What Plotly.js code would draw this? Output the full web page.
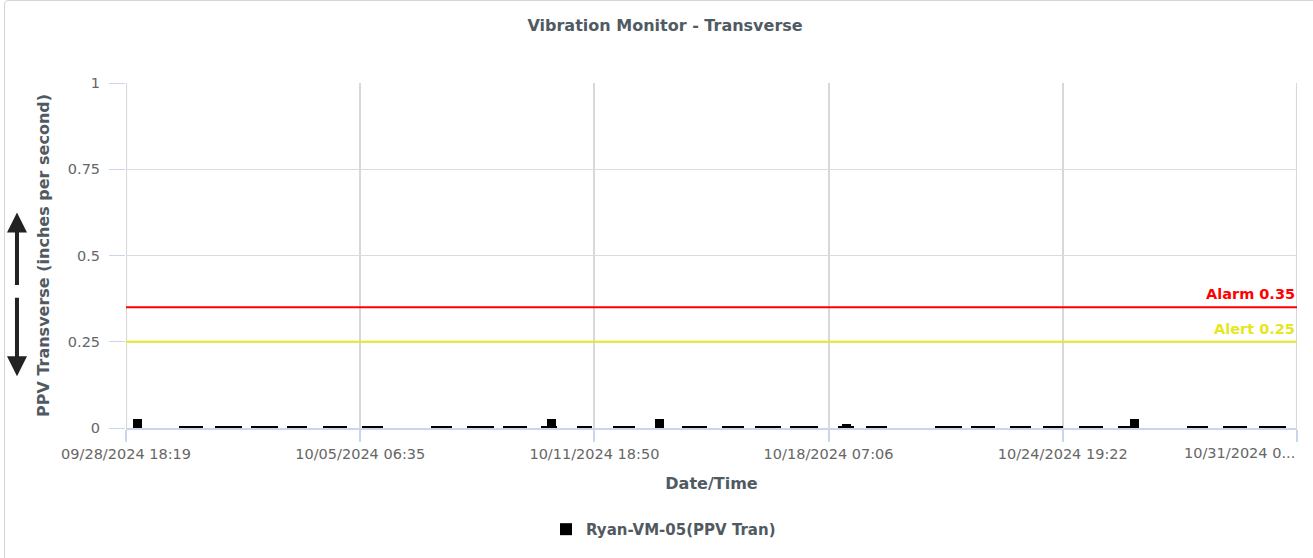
<!DOCTYPE html>
<html>
<head>
<meta charset="utf-8">
<script src="https://cdn.plot.ly/plotly-3.0.1.min.js"></script>
<style>
  html, body { margin: 0; padding: 0; background: #fff; }
  #frame {
    position: absolute; left: 4px; top: 0px;
    width: 1330px; height: 570px;
    border: 1px solid #d4d4d4; border-radius: 4px;
  }
  #chart { position: absolute; left: 0; top: 0; width: 1313px; height: 558px; }
</style>
</head>
<body>
<div id="frame"></div>
<div id="chart"></div>
<script>
/* ---------- readings: each bar spans a reading window ---------- */
const readingStart = [
  '2024-09-28 23:00', '2024-09-30 05:40', '2024-09-30 11:00', '2024-10-01 05:45',
  '2024-10-01 08:25', '2024-10-02 05:45', '2024-10-02 07:45', '2024-10-03 05:50',
  '2024-10-04 05:50', '2024-10-05 07:55', '2024-10-07 06:00', '2024-10-08 06:00',
  '2024-10-09 06:05', '2024-10-10 07:25', '2024-10-10 11:25', '2024-10-11 07:30',
  '2024-10-12 07:30', '2024-10-13 11:35', '2024-10-14 05:35', '2024-10-15 07:40',
  '2024-10-16 05:40', '2024-10-17 05:40', '2024-10-18 13:05', '2024-10-18 15:45',
  '2024-10-19 07:45', '2024-10-21 05:50', '2024-10-22 05:55', '2024-10-23 07:55',
  '2024-10-24 06:00', '2024-10-25 06:00', '2024-10-26 08:05', '2024-10-26 16:05',
  '2024-10-28 06:10', '2024-10-29 06:10', '2024-10-29 10:50', '2024-10-30 06:15'
];
const readingEnd = [
  '2024-09-29 05:00', '2024-09-30 21:45', '2024-09-30 16:20', '2024-10-01 23:45',
  '2024-10-01 13:45', '2024-10-02 23:50', '2024-10-02 13:50', '2024-10-03 19:10',
  '2024-10-04 21:55', '2024-10-05 21:55', '2024-10-07 20:00', '2024-10-09 00:00',
  '2024-10-09 22:05', '2024-10-10 18:05', '2024-10-10 17:30', '2024-10-11 17:30',
  '2024-10-12 22:10', '2024-10-13 17:35', '2024-10-14 21:40', '2024-10-15 22:20',
  '2024-10-16 23:40', '2024-10-17 23:45', '2024-10-18 23:45', '2024-10-18 21:45',
  '2024-10-19 21:50', '2024-10-21 23:55', '2024-10-22 21:55', '2024-10-23 22:00',
  '2024-10-24 19:20', '2024-10-25 22:00', '2024-10-26 22:05', '2024-10-26 22:05',
  '2024-10-28 20:10', '2024-10-29 22:10', '2024-10-29 16:50', '2024-10-31 00:15'
];
const ppvTran = [
  0.026, 0.003, 0.006, 0.003,
  0.006, 0.003, 0.006, 0.003,
  0.003, 0.003, 0.003, 0.003,
  0.003, 0.003, 0.026, 0.003,
  0.003, 0.026, 0.003, 0.003,
  0.003, 0.003, 0.003, 0.011,
  0.003, 0.003, 0.003, 0.003,
  0.003, 0.003, 0.003, 0.026,
  0.003, 0.003, 0.006, 0.003
];

/* ---------- thresholds ---------- */
const limitNames  = ['Alarm', 'Alert'];
const limitValues = [0.35, 0.25];
const limitColors = ['#ff0000', '#e6e620'];

/* ---------- axes ---------- */
const xRange    = ['2024-09-28 18:16', '2024-10-31 07:41'];
const xTickVals = ['2024-09-28 18:19', '2024-10-05 06:35', '2024-10-11 18:50',
                   '2024-10-18 07:06', '2024-10-24 19:22', '2024-10-31 07:38'];
const xTickText = ['09/28/2024 18:19', '10/05/2024 06:35', '10/11/2024 18:50',
                   '10/18/2024 07:06', '10/24/2024 19:22', '10/31/2024 0...'];
const yTickVals = [0, 0.25, 0.5, 0.75, 1];
const yTickText = ['0', '0.25', '0.5', '0.75', '1'];

(function () {
  'use strict';

  const FONT = 'DejaVu Sans, Verdana, sans-serif';
  const DARK = '#505a63';
  const GRID_X = '#d8d8d8';

  const toMs = s => new Date(s.replace(' ', 'T')).getTime();
  const fmt = ms => {
    const d = new Date(ms);
    const p = n => String(n).padStart(2, '0');
    return d.getFullYear() + '-' + p(d.getMonth() + 1) + '-' + p(d.getDate()) +
      ' ' + p(d.getHours()) + ':' + p(d.getMinutes()) + ':' + p(d.getSeconds());
  };

  const barX = readingStart.map((s, i) => fmt((toMs(s) + toMs(readingEnd[i])) / 2));
  const barW = readingStart.map((s, i) => toMs(readingEnd[i]) - toMs(s));

  const bars = {
    type: 'bar',
    name: 'Ryan-VM-05(PPV Tran)',
    x: barX, y: ppvTran, width: barW,
    marker: { color: '#000000', line: { width: 0 } },
    hoverinfo: 'x+y',
  };

  /* last label sits right-aligned at the end tick, as in the source chart */
  const lastIdx = xTickText.length - 1;
  const shownTickText = xTickText.map((t, i) => (i === lastIdx ? '' : t));

  /* plotly drops grid lines at the plot edges; draw those two here */
  const shapes = [xTickVals[0], xTickVals[lastIdx]].map(v => ({
    type: 'line', xref: 'x', yref: 'paper', layer: 'below',
    x0: v, x1: v, y0: 0, y1: 1,
    line: { color: GRID_X, width: 2 },
  }));

  limitValues.forEach((v, i) => shapes.push({
    type: 'line', xref: 'paper', yref: 'y',
    x0: 0, x1: 1, y0: v, y1: v,
    line: { color: limitColors[i], width: 2 },
  }));

  const annotations = limitValues.map((v, i) => ({
    xref: 'paper', yref: 'y', x: 1, y: v,
    xanchor: 'right', yanchor: 'bottom', yshift: 3,
    text: '<b>' + limitNames[i] + ' ' + v + '</b>',
    showarrow: false,
    font: { family: FONT, size: 14.5, color: limitColors[i] },
  }));

  annotations.push({
    xref: 'x', yref: 'paper', x: xTickVals[lastIdx], y: 0,
    xanchor: 'right', yanchor: 'top', yshift: -15,
    text: xTickText[lastIdx], showarrow: false,
    font: { family: FONT, size: 14.5, color: '#666666' },
  });

  /* the up / down arrows beside the y title */
  annotations.push(
    { xref: 'paper', yref: 'paper', x: -0.0931, y: 0.625, ax: 0, ay: 74,
      text: '', showarrow: true, arrowhead: 2, arrowsize: 1, arrowwidth: 4, arrowcolor: '#222222' },
    { xref: 'paper', yref: 'paper', x: -0.0931, y: 0.150, ax: 0, ay: -80,
      text: '', showarrow: true, arrowhead: 2, arrowsize: 1, arrowwidth: 4, arrowcolor: '#222222' }
  );

  const layout = {
    width: 1313, height: 558,
    paper_bgcolor: 'rgba(0,0,0,0)',
    plot_bgcolor: 'rgba(0,0,0,0)',
    margin: { t: 83, r: 16, b: 127, l: 126 },
    font: { family: FONT, color: '#666666', size: 14.5 },
    title: {
      text: '<b>Vibration Monitor - Transverse</b>',
      xref: 'container', x: 0.5065, xanchor: 'center',
      yref: 'container', y: 0.955, yanchor: 'middle',
      font: { family: FONT, size: 16, color: DARK },
    },
    bargap: 0,
    barmode: 'overlay',
    showlegend: true,
    legend: {
      orientation: 'h', xref: 'paper', x: 0.459, xanchor: 'center',
      yref: 'paper', y: -0.294, yanchor: 'middle',
      font: { family: FONT, size: 15, color: DARK, weight: 'bold' },
    },
    xaxis: {
      type: 'date', range: xRange,
      tickmode: 'array', tickvals: xTickVals, ticktext: shownTickText,
      ticks: 'outside', ticklen: 12, tickwidth: 2, tickcolor: '#ccd6eb',
      showgrid: true, gridcolor: GRID_X, gridwidth: 2,
      showline: true, linecolor: '#ccd6eb', linewidth: 2,
      zeroline: false, layer: 'below traces',
      tickfont: { family: FONT, size: 14.5, color: '#666666' },
      title: { text: '<b>Date/Time</b>', standoff: 16,
               font: { family: FONT, size: 16, color: DARK } },
    },
    yaxis: {
      range: [0, 1],
      tickmode: 'array', tickvals: yTickVals, ticktext: yTickText,
      ticks: 'outside', ticklen: 16, tickwidth: 1, tickcolor: '#ccd6eb',
      ticklabelstandoff: 6,
      showgrid: true, gridcolor: '#dcdcdc', gridwidth: 1,
      zeroline: false, showline: false,
      tickfont: { family: FONT, size: 14.5, color: '#666666' },
      title: { text: '<b>PPV Transverse (inches per second)</b>', standoff: 14,
               font: { family: FONT, size: 16, color: DARK } },
    },
    shapes: shapes,
    annotations: annotations,
  };

  Plotly.newPlot('chart', [bars], layout, { displayModeBar: false, responsive: false });
})();
</script>
</body>
</html>
